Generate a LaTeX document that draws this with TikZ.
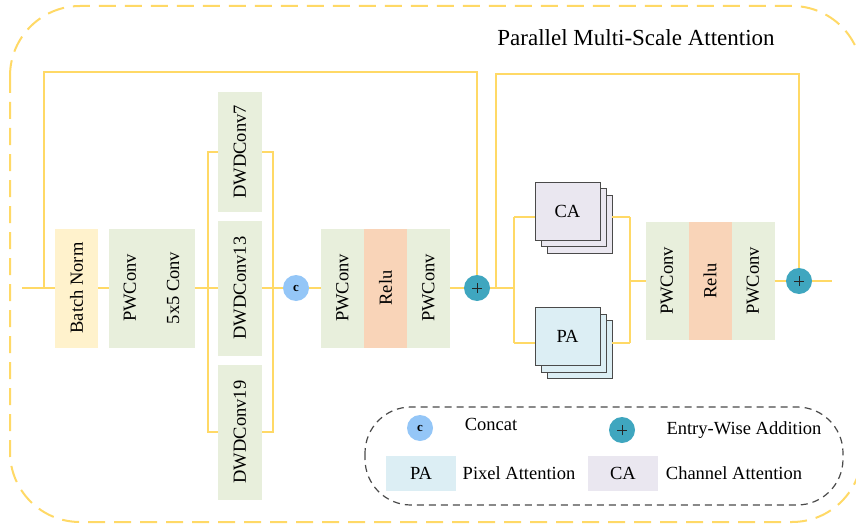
\documentclass[tikz,border=0pt]{standalone}
\usepackage{fontspec}
\setmainfont{Liberation Serif}
\usepackage{graphicx}
\definecolor{yl}{HTML}{FFD966}
\definecolor{bnc}{HTML}{FFF2CC}
\definecolor{grc}{HTML}{E8EFDC}
\definecolor{rlc}{HTML}{F9D4B8}
\definecolor{ccc}{HTML}{94C6F7}
\definecolor{plc}{HTML}{3FA6BF}
\definecolor{cac}{HTML}{EAE7F0}
\definecolor{pac}{HTML}{DCEEF4}
\definecolor{lgc}{HTML}{4A4A4A}
\newcommand{\bfnt}{\fontsize{18.5}{20}\selectfont}
\tikzset{
  conn/.style={draw=yl, line width=2pt},
  blk/.style={minimum width=43pt, minimum height=119pt, inner sep=0pt, outer sep=0pt, font=\bfnt, fill=grc},
  dwblk/.style={minimum width=44pt, inner sep=0pt, outer sep=0pt, font=\bfnt, fill=grc},
  catc/.style={circle, fill=ccc, minimum size=26pt, inner sep=0pt, outer sep=0pt, font=\fontsize{13}{13}\selectfont\bfseries},
  addc/.style={circle, fill=plc, minimum size=26pt, inner sep=0pt, outer sep=0pt, text=black!85},
  att/.style={draw=lgc, line width=0.9pt, minimum width=65pt, minimum height=58pt, inner sep=0pt, outer sep=0pt, font=\bfnt},
  lbox/.style={minimum width=70pt, minimum height=35pt, inner sep=0pt, font=\bfnt},
  ltxt/.style={font=\bfnt, inner sep=0pt}
}
\newcommand{\plussign}{\tikz[x=1pt,y=1pt]{\draw[line width=1pt] (-5,0)--(5,0) (0,-5)--(0,5);}}
\begin{document}
\begin{tikzpicture}[x=1pt,y=-1pt]
\useasboundingbox (0,0) rectangle (856,524);
% outer frame
\draw[yl, line width=2pt, dash pattern=on 17pt off 9pt, rounded corners=70pt] (10,6) rectangle (862,522);
\node[font=\fontsize{23}{25}\selectfont, inner sep=0pt] (title) at (636,38) {Parallel Multi-Scale Attention};

% connector coordinates
\coordinate (in) at (22,288);
\coordinate (b1) at (44,288);
\coordinate (t1) at (44,72);
\coordinate (lb1) at (208,152);
\coordinate (lb2) at (208,432);
\coordinate (rb1) at (273,152);
\coordinate (rb2) at (273,432);
\coordinate (b2) at (496,288);
\coordinate (t2) at (496,74);
\coordinate (j1t) at (514,217);
\coordinate (j1m) at (514,288);
\coordinate (j1b) at (514,343);
\coordinate (j2t) at (630,217);
\coordinate (j2m) at (630,281);
\coordinate (j2b) at (630,343);
\coordinate (out) at (832,281);

% blocks
\node[blk, fill=bnc] (bn) at (76.5,288) {\rotatebox{90}{Batch Norm}};
\node[blk] (pw1) at (130,288) {\rotatebox{90}{PWConv}};
\node[blk] (c55) at (173,288) {\rotatebox{90}{5x5 Conv}};
\node[dwblk, minimum height=119pt] (dw7) at (240,152) {\rotatebox{90}{DWDConv7}};
\node[dwblk, minimum height=135pt] (dw13) at (240,288) {\rotatebox{90}{DWDConv13}};
\node[dwblk, minimum height=135pt] (dw19) at (240,432) {\rotatebox{90}{DWDConv19}};
\node[catc] (cc) at (296,288) {c};
\node[blk] (pw2) at (342.5,288) {\rotatebox{90}{PWConv}};
\node[blk, fill=rlc] (rl1) at (385.5,288) {\rotatebox{90}{Relu}};
\node[blk] (pw3) at (428.5,288) {\rotatebox{90}{PWConv}};
\node[addc] (p1) at (477,288) {\plussign};

\node[att, fill=cac] (ca3) at (579.5,224) {};
\node[att, fill=cac] (ca2) at (573.5,217.5) {};
\node[att, fill=cac] (ca) at (567.5,211) {CA};
\node[att, fill=pac] (pa3) at (579.5,349.5) {};
\node[att, fill=pac] (pa2) at (573.5,343) {};
\node[att, fill=pac] (pa) at (567.5,336.5) {PA};

\node[blk, minimum height=118pt] (pw4) at (667,281) {\rotatebox{90}{PWConv}};
\node[blk, minimum height=118pt, fill=rlc] (rl2) at (710,281) {\rotatebox{90}{Relu}};
\node[blk, minimum height=118pt] (pw5) at (753,281) {\rotatebox{90}{PWConv}};
\node[addc] (p2) at (799,281) {\plussign};

% connectors
\draw[conn] (in) -- (bn.west);
\draw[conn] (b1) -- (t1) -| (p1.north);
\draw[conn] (bn.east) -- (pw1.west);
\draw[conn] (c55.east) -- (dw13.west);
\draw[conn] (dw7.west) -- (lb1) -- (lb2) -- (dw19.west);
\draw[conn] (dw7.east) -- (rb1) -- (rb2) -- (dw19.east);
\draw[conn] (dw13.east) -- (cc.west);
\draw[conn] (cc.east) -- (pw2.west);
\draw[conn] (pw3.east) -- (p1.west);
\draw[conn] (p1.east) -- (j1m);
\draw[conn] (b2) -- (t2) -| (p2.north);
\draw[conn] (j1t) -- (j1b);
\draw[conn] (j1t) -- (j1t -| ca.west);
\draw[conn] (j1b) -- (j1b -| pa.west);
\draw[conn] (ca3.east |- j2t) -- (j2t);
\draw[conn] (pa3.east |- j2b) -- (j2b);
\draw[conn] (j2t) -- (j2b);
\draw[conn] (j2m) -- (pw4.west);
\draw[conn] (pw5.east) -- (p2.west);
\draw[conn] (p2.east) -- (out);

% legend
\draw[lgc, line width=1.2pt, dash pattern=on 7pt off 5pt, rounded corners=46pt] (365,407) rectangle (843,505);
\node[catc] (lc) at (420,428) {c};
\node[ltxt] (lct) at (491,424) {Concat};
\node[addc] (lp) at (622,430) {\plussign};
\node[ltxt] (lpt) at (744,430) {Entry-Wise Addition};
\node[lbox, fill=pac] (lpa) at (421,473.5) {PA};
\node[ltxt] (lpat) at (519,473) {Pixel Attention};
\node[lbox, fill=cac] (lca) at (623,473.5) {CA};
\node[ltxt] (lcat) at (734,473) {Channel Attention};
\end{tikzpicture}
\end{document}
